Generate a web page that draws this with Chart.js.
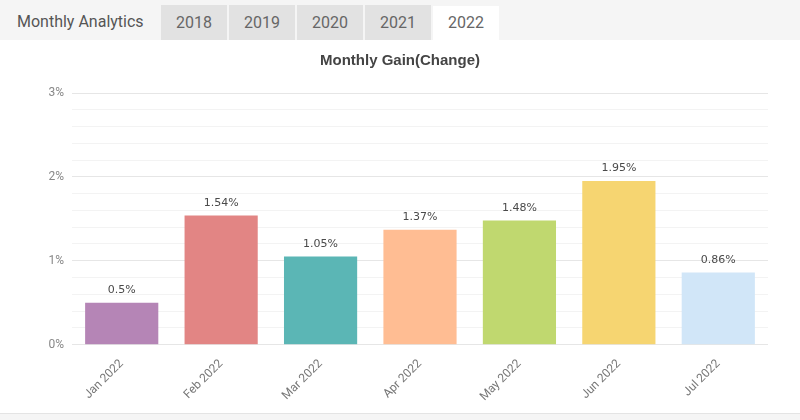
<!DOCTYPE html>
<html>
<head>
<meta charset="utf-8">
<script src="https://cdn.jsdelivr.net/npm/chart.js@4.4.0/dist/chart.umd.min.js"></script>
<style>
  html, body { margin: 0; padding: 0; width: 800px; height: 420px; background: #f5f5f5; overflow: hidden; font-family: Roboto, "Liberation Sans", sans-serif; }
  .tabbar { position: absolute; left: 0; top: 0; width: 800px; height: 40px; background: #f5f5f5; }
  .title { position: absolute; left: 17px; top: 12px; font-size: 16px; color: #555; }
  .tab { position: absolute; top: 5px; height: 35px; width: 66px; background: #e2e2e2; color: #666; font-size: 16px; text-align: center; line-height: 35px; }
  .tab.active { background: #fff; top: 6px; height: 34px; line-height: 33px; }
  .panel { position: absolute; left: 0; top: 40px; width: 800px; height: 373px; background: #fff; border-bottom: 1px solid #e4e4e4; }
</style>
</head>
<body>
<div class="tabbar">
  <div class="title">Monthly Analytics</div>
  <div class="tab" style="left:161px">2018</div>
  <div class="tab" style="left:229px">2019</div>
  <div class="tab" style="left:297px">2020</div>
  <div class="tab" style="left:365px">2021</div>
  <div class="tab active" style="left:433px">2022</div>
</div>
<div class="panel"><canvas id="c" width="800" height="373"></canvas></div>
<script>
const categories = ["Jan 2022", "Feb 2022", "Mar 2022", "Apr 2022", "May 2022", "Jun 2022", "Jul 2022"];
const gains = [0.5, 1.54, 1.05, 1.37, 1.48, 1.95, 0.86];
const valueLabels = ["0.5%", "1.54%", "1.05%", "1.37%", "1.48%", "1.95%", "0.86%"];
const barColors = ["#b585b6", "#e28584", "#5bb6b5", "#ffbd93", "#c0d86f", "#f6d571", "#d1e6f8"];
const yMin = 0, yMax = 3, yStep = 0.2;

const labelPlugin = {
  id: 'valueLabels',
  afterDatasetsDraw(chart) {
    const ctx = chart.ctx;
    const meta = chart.getDatasetMeta(0);
    ctx.save();
    ctx.font = '11px "DejaVu Sans"';
    ctx.fillStyle = '#4a4a4a';
    ctx.textAlign = 'center';
    ctx.textBaseline = 'bottom';
    meta.data.forEach((bar, i) => {
      ctx.fillText(valueLabels[i], bar.x, bar.y - 7);
    });
    ctx.restore();
  }
};

const isMajor = v => Math.abs(v - Math.round(v)) < 1e-6;

new Chart(document.getElementById('c'), {
  type: 'bar',
  data: {
    labels: categories,
    datasets: [{
      data: gains,
      backgroundColor: barColors,
      borderColor: barColors,
      borderWidth: 0,
      categoryPercentage: 0.8,
      barPercentage: 0.92
    }]
  },
  options: {
    responsive: false,
    animation: false,
    layout: { padding: { left: 0, right: 0, top: 0, bottom: 5 } },
    plugins: {
      legend: { display: false },
      tooltip: { enabled: false },
      title: {
        display: true,
        text: 'Monthly Gain(Change)',
        color: '#444',
        font: { family: '"Liberation Sans", Arial, sans-serif', size: 15, weight: 'bold' },
        padding: { top: 12, bottom: 23 }
      }
    },
    scales: {
      x: {
        grid: { display: false },
        border: { display: false },
        ticks: {
          color: '#777',
          font: { family: 'Roboto, sans-serif', size: 12 },
          minRotation: 45, maxRotation: 45,
          padding: 4
        }
      },
      y: {
        min: yMin, max: yMax,
        afterFit(scale) { scale.width = 72; },
        border: { display: false },
        grid: {
          color: ctx => isMajor(ctx.tick.value) ? '#e6e6e6' : '#f3f3f3',
          drawTicks: false
        },
        ticks: {
          stepSize: yStep,
          autoSkip: false,
          color: '#888',
          padding: 8,
          font: { family: 'Roboto, sans-serif', size: 12 },
          callback: v => isMajor(v) ? Math.round(v) + '%' : ''
        }
      },
      yRight: {
        position: 'right',
        min: yMin, max: yMax,
        afterFit(scale) { scale.width = 32; },
        border: { display: false },
        grid: { display: false },
        ticks: { display: false }
      }
    }
  },
  plugins: [labelPlugin]
});
</script>
</body>
</html>
